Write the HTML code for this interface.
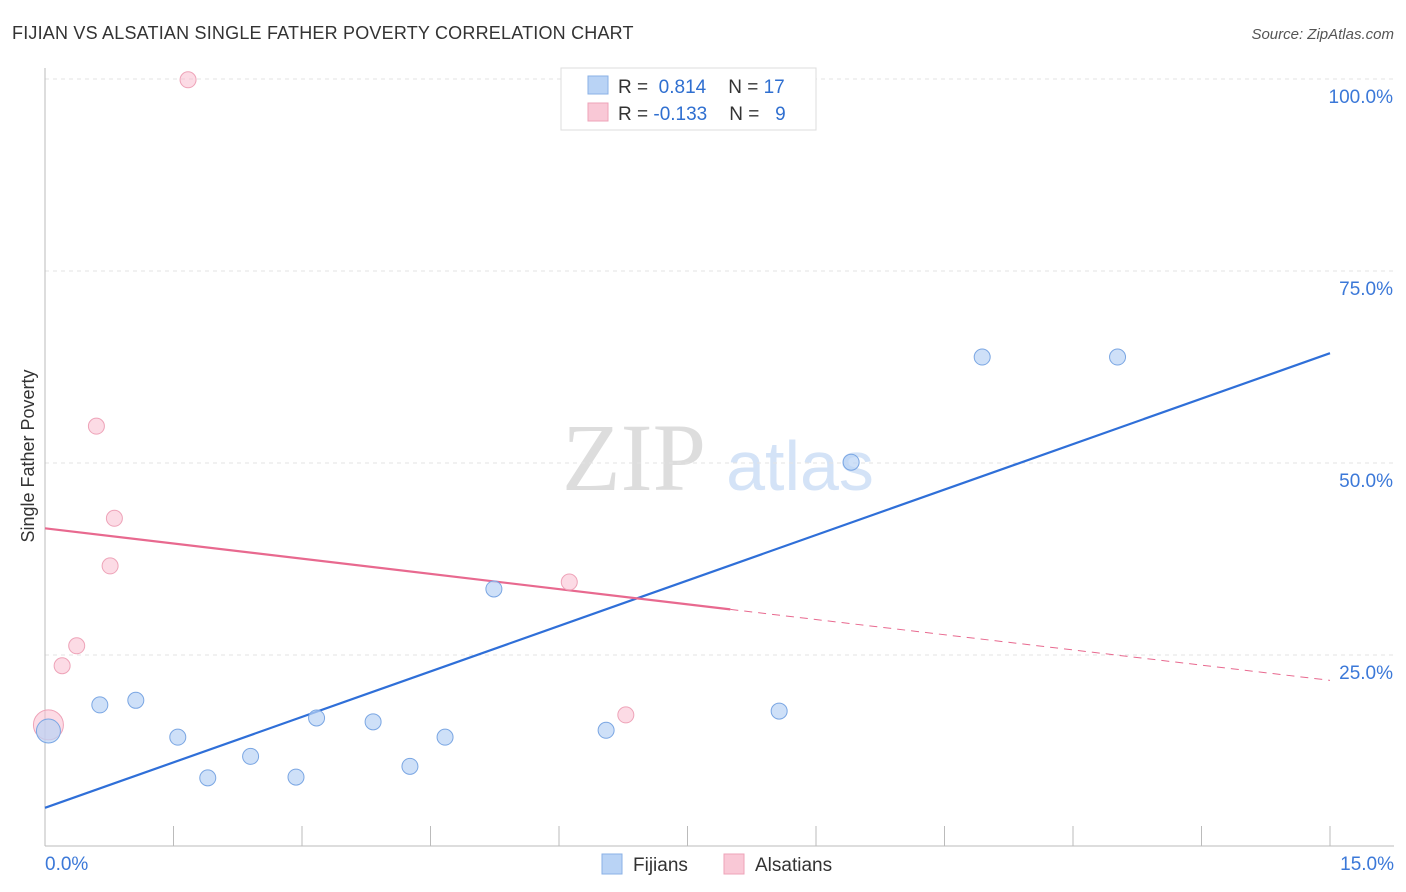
<!DOCTYPE html>
<html><head><meta charset="utf-8"><style>
body{margin:0;background:#fff;font-family:"Liberation Sans",sans-serif;}
svg{display:block}
</style></head><body>
<svg width="1406" height="892" id="chart">
<text x="12" y="39" font-size="18" letter-spacing="0.2" fill="#333">FIJIAN VS ALSATIAN SINGLE FATHER POVERTY CORRELATION CHART</text>
<text x="1394" y="39" font-size="15" fill="#555" font-style="italic" text-anchor="end">Source: ZipAtlas.com</text>
<text x="634" y="490" font-size="96" fill="#ddd" font-family="Liberation Serif,serif" text-anchor="middle">ZIP</text>
<text x="800" y="490" font-size="70" fill="#d4e3f7" text-anchor="middle">atlas</text>
<text transform="translate(34,456) rotate(-90)" font-size="18" fill="#333" text-anchor="middle">Single Father Poverty</text>
<g id="grid"></g><g id="axes"></g><g id="lines"></g><g id="pts"></g>
<g>
<rect x="561" y="68" width="255" height="62" fill="#fff" stroke="#ddd"/>
<rect x="588" y="76" width="20" height="18" fill="#b9d3f5" stroke="#8ab0e6"/>
<rect x="588" y="103" width="20" height="18" fill="#f9c8d6" stroke="#eea3b8"/>
<text x="618" y="93" font-size="19" fill="#333">R = <tspan fill="#2f6fd0">&#160;0.814</tspan><tspan dx="22" fill="#333">N = </tspan><tspan fill="#2f6fd0">17</tspan></text>
<text x="618" y="120" font-size="19" fill="#333">R = <tspan fill="#2f6fd0">-0.133</tspan><tspan dx="22" fill="#333">N = </tspan><tspan fill="#2f6fd0">&#160;&#160;9</tspan></text>
</g>
<g>
<rect x="602" y="854" width="20" height="20" fill="#b9d3f5" stroke="#8ab0e6"/>
<text x="633" y="871" font-size="19" fill="#333">Fijians</text>
<rect x="724" y="854" width="20" height="20" fill="#f9c8d6" stroke="#eea3b8"/>
<text x="755" y="871" font-size="19" fill="#333">Alsatians</text>
</g>
</svg>
<script>
const xTicks=[0,15];
const yTicks=[25,50,75,100];
const fijX=[0.04,0.64,1.06,1.55,1.90,2.40,2.93,3.17,3.83,4.26,4.67,5.24,6.55,8.57,9.41,10.94,12.52];
const fijY=[15.1,18.5,19.1,14.3,9.0,11.8,9.1,16.8,16.3,10.5,14.3,33.6,15.2,17.7,50.1,63.8,63.8];
const alsX=[0.04,0.2,0.37,0.6,0.76,0.81,1.67,6.12,6.78];
const alsY=[15.9,23.6,26.2,54.8,36.6,42.8,99.9,34.5,17.2];
const fijTrend=[5.1,64.3];
const alsTrend=[41.5,21.7];
const alsSolidEnd=8.0;
const NS='http://www.w3.org/2000/svg';
const X=v=>45+v*(1285/15), Y=v=>847-v*7.68;
function mk(p,t,a){const e=document.createElementNS(NS,t);for(const k in a)e.setAttribute(k,a[k]);document.getElementById(p).appendChild(e);return e;}
yTicks.forEach(t=>{
 const l=mk('grid','line',{x1:45,x2:1394,y1:Y(t),y2:Y(t),stroke:'#e3e3e3','stroke-dasharray':'4,4'});
 
 
 const tx=mk('grid','text',{x:1393,y:Y(t)+24,'font-size':19,fill:'#3b78d8','text-anchor':'end'});tx.textContent=t.toFixed(1)+'%';
 
 
});
mk('axes','line',{x1:45,x2:45,y1:68,y2:846,stroke:'#bbb'});
mk('axes','line',{x1:45,x2:1394,y1:846,y2:846,stroke:'#bbb'});
for(let i=0;i<=10;i++){mk('axes','line',{x1:X(i*1.5),x2:X(i*1.5),y1:826,y2:846,stroke:'#bbb'});}
xTicks.forEach((t,i)=>{const tx=mk('axes','text',{x:i?1394:45,y:870,'font-size':19,fill:'#3b78d8','text-anchor':i?'end':'start'});tx.textContent=t.toFixed(1)+'%';
 
 });
const bl=mk('lines','line',{x1:X(0),y1:Y(fijTrend[0]),x2:X(15),y2:Y(fijTrend[1]),stroke:'#2f6fd8','stroke-width':2.2});


const am=alsTrend[0]+(alsTrend[1]-alsTrend[0])*alsSolidEnd/15;
const pl=mk('lines','line',{x1:X(0),y1:Y(alsTrend[0]),x2:X(alsSolidEnd),y2:Y(am),stroke:'#e8698f','stroke-width':2.2});


const pd=mk('lines','line',{x1:X(alsSolidEnd),y1:Y(am),x2:X(15),y2:Y(alsTrend[1]),stroke:'#e8698f','stroke-width':1,'stroke-dasharray':'8,6'});


alsX.forEach((x,i)=>{const c=mk('pts','circle',{cx:X(x),cy:Y(alsY[i]),r:i==0?15:8,fill:'rgba(249,190,208,0.55)',stroke:'#eea3b8'});
 
 });
fijX.forEach((x,i)=>{const c=mk('pts','circle',{cx:X(x),cy:Y(fijY[i]),r:i==0?12:8,fill:'rgba(185,211,245,0.7)',stroke:'#7aa6e3'});
 
 });
</script>
</body></html>
